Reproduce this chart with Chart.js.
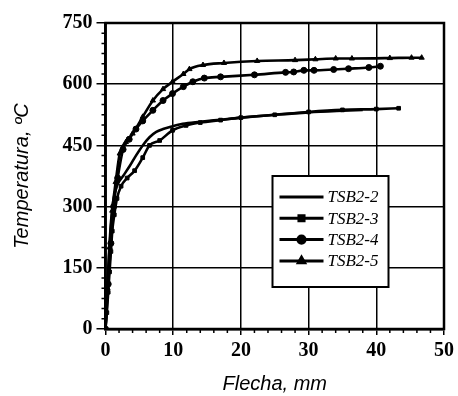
<!DOCTYPE html>
<html>
<head>
  <script src="https://cdn.jsdelivr.net/npm/chart.js@4.4.1/dist/chart.umd.min.js"></script>
  <style>
    body { margin: 0; background: #fff; }
    #wrap { width: 458px; height: 396px; }
  </style>
</head>
<body>
<div id="wrap"><canvas id="chart" width="458" height="396"></canvas></div>
<script>
  // deflection (mm) and temperature (C)
  var tsb22x = [0, 0.2, 0.5, 0.8, 1.2, 1.8, 2.6, 3.6, 4.5, 5.5, 6.5, 7.5, 8.5, 9.5, 11.4, 14, 17, 20, 25, 30, 35, 38];
  var tsb22y = [0, 80, 180, 260, 320, 355, 375, 400, 425, 450, 470, 483, 490, 495, 503, 508, 513, 518, 525, 531, 535, 537];

  var tsb23x = [0, 0.2, 0.4, 0.6, 0.8, 1.0, 1.3, 1.7, 2.3, 3.2, 4.3, 5.5, 6.5, 8.0, 9.9, 11.9, 14, 17, 20, 25, 30, 35, 40, 43.3];
  var tsb23y = [0, 40, 90, 140, 190, 240, 280, 320, 350, 370, 388, 420, 450, 462, 487, 499, 506, 512, 518, 525, 532, 537, 539, 541];

  var tsb24x = [0, 0.4, 0.8, 1.2, 1.8, 2.6, 3.5, 4.5, 5.5, 7.0, 8.5, 9.9, 11.5, 12.9, 14.6, 17, 22, 26.6, 27.8, 29.3, 30.8, 33.7, 35.9, 38.9, 40.6];
  var tsb24y = [0, 110, 210, 300, 370, 440, 465, 490, 510, 536, 560, 577, 594, 606, 615, 618, 623, 629, 630, 634, 634, 636, 638, 641, 644];

  var tsb25x = [0, 0.3, 0.6, 1.0, 1.5, 2.1, 3.0, 4.0, 5.5, 7.0, 8.5, 9.9, 11.5, 12.4, 14.4, 17.5, 22.4, 28, 31, 34, 36.4, 42, 45.2, 46.7];
  var tsb25y = [0, 100, 200, 290, 360, 430, 458, 479, 520, 560, 588, 606, 625, 637, 647, 652, 657, 659, 661, 663, 663, 664, 665, 665];

  var xTicks = [0, 10, 20, 30, 40, 50];
  var yTicks = [0, 150, 300, 450, 600, 750];

  function pts(xs, ys) {
    return xs.map(function (x, i) { return { x: x, y: ys[i] }; });
  }

  function series(label, xs, ys, style) {
    return {
      label: label,
      data: pts(xs, ys),
      borderColor: '#000',
      backgroundColor: '#000',
      borderWidth: 2.6,
      pointStyle: style || 'circle',
      pointRadius: style ? (style === 'rect' ? 2.6 : 3) : 0,
      pointBorderWidth: 1,
      cubicInterpolationMode: 'monotone',
      fill: false
    };
  }

  // frame, minor ticks and the boxed legend inside the plot
  var extras = {
    id: 'extras',
    afterDraw: function (chart) {
      var ctx = chart.ctx, a = chart.chartArea;
      var xs = chart.scales.x, ys = chart.scales.y;
      ctx.save();
      ctx.strokeStyle = '#000';
      ctx.lineWidth = 1.5;
      ctx.beginPath();
      for (var v = 2; v < 50; v += 2) {
        if (v % 10 === 0) continue;
        var px = xs.getPixelForValue(v);
        ctx.moveTo(px, a.bottom);
        ctx.lineTo(px, a.bottom + 4);
      }
      for (var t = 25; t < 750; t += 25) {
        if (t % 150 === 0) continue;
        var py = ys.getPixelForValue(t);
        ctx.moveTo(a.left, py);
        ctx.lineTo(a.left - 4, py);
      }
      ctx.stroke();

      ctx.lineWidth = 2.5;
      ctx.strokeRect(a.left, a.top, a.right - a.left, a.bottom - a.top);

      // legend box
      var bx = a.left + 167, by = a.top + 153, bw = 116, bh = 111;
      ctx.fillStyle = '#fff';
      ctx.fillRect(bx, by, bw, bh);
      ctx.lineWidth = 2;
      ctx.strokeRect(bx, by, bw, bh);
      ctx.font = 'italic 17px "Liberation Serif"';
      ctx.textBaseline = 'middle';
      chart.data.datasets.forEach(function (ds, i) {
        var ry = by + 21 + i * 21.3;
        ctx.strokeStyle = '#000';
        ctx.lineWidth = 3;
        ctx.beginPath();
        ctx.moveTo(bx + 7, ry);
        ctx.lineTo(bx + 51, ry);
        ctx.stroke();
        if (ds.pointRadius > 0) {
          Chart.helpers.drawPoint(ctx, {
            pointStyle: ds.pointStyle, radius: 3.6, rotation: 0, borderWidth: 1
          }, bx + 29, ry);
          ctx.fillStyle = '#000';
          ctx.fill();
        }
        ctx.fillStyle = '#000';
        ctx.fillText(ds.label, bx + 55, ry + 1);
      });
      ctx.restore();
    }
  };

  new Chart(document.getElementById('chart'), {
    type: 'line',
    data: {
      datasets: [
        series('TSB2-2', tsb22x, tsb22y, null),
        series('TSB2-3', tsb23x, tsb23y, 'rect'),
        series('TSB2-4', tsb24x, tsb24y, 'circle'),
        series('TSB2-5', tsb25x, tsb25y, 'triangle')
      ]
    },
    options: {
      responsive: false,
      animation: false,
      layout: { padding: { left: 0, right: 12, top: 23, bottom: 0 } },
      plugins: { legend: { display: false }, tooltip: { enabled: false } },
      scales: {
        x: {
          type: 'linear',
          min: xTicks[0],
          max: xTicks[xTicks.length - 1],
          afterBuildTicks: function (s) { s.ticks = xTicks.map(function (v) { return { value: v }; }); },
          afterFit: function (s) { s.height = 67; },
          grid: { color: '#000', lineWidth: 1.5, tickLength: 6 },
          border: { color: '#000', width: 2.5 },
          ticks: {
            color: '#000', padding: 4, maxRotation: 0,
            font: { family: 'Liberation Serif', weight: 'bold', size: 20 }
          },
          title: {
            display: true, text: 'Flecha, mm', color: '#000',
            padding: { top: 0, bottom: 0 },
            font: { family: 'Liberation Sans', style: 'italic', size: 20 }
          }
        },
        y: {
          min: yTicks[0],
          max: yTicks[yTicks.length - 1],
          afterBuildTicks: function (s) { s.ticks = yTicks.map(function (v) { return { value: v }; }); },
          afterFit: function (s) { s.width = 105.5; },
          grid: { color: '#000', lineWidth: 1.5, tickLength: 9 },
          border: { color: '#000', width: 2.5 },
          ticks: {
            color: '#000', padding: 4,
            font: { family: 'Liberation Serif', weight: 'bold', size: 20 }
          },
          title: {
            display: true, text: 'Temperatura, ºC', color: '#000',
            padding: { top: 10, bottom: 0 },
            font: { family: 'Liberation Sans', style: 'italic', size: 20 }
          }
        }
      }
    },
    plugins: [extras]
  });
</script>
</body>
</html>
